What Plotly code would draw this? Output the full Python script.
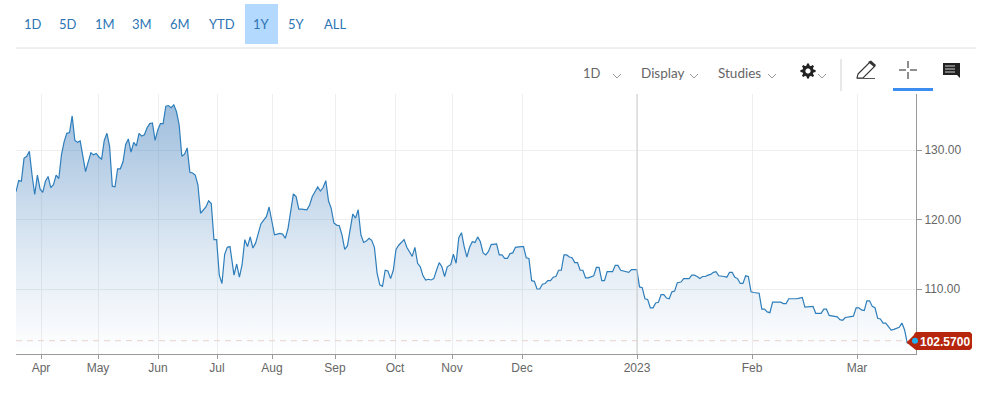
import math
import numpy as np
import plotly.graph_objects as go

W, H = 981, 393
PLOT_L, PLOT_R, PLOT_T, PLOT_B = 16, 916, 94, 354
Y_MIN, Y_MAX = 100.65, 138.06

range_buttons = ["1D", "5D", "1M", "3M", "6M", "YTD", "1Y", "5Y", "ALL"]
range_button_x = [32.5, 68, 105, 142, 180, 222, 261, 296, 335]

month_labels = ["Apr", "May", "Jun", "Jul", "Aug", "Sep", "Oct", "Nov", "Dec", "2023", "Feb", "Mar"]
month_positions = [25, 82, 142, 201, 256, 319, 379, 436, 506, 621, 736, 841]
price_ticks = [110, 120, 130]
last_price = 102.57

closes_a = [124.0, 125.6, 125.5, 128.8, 129.1, 129.8, 126.4, 123.6, 126.4, 124.4, 123.9, 125.5, 126.2, 124.6, 125.0, 126.4, 125.9,
            129.3, 131.2, 132.4, 132.5, 134.9, 131.4, 131.1, 131.3, 129.0, 126.9, 128.3, 129.6, 129.3, 129.5, 129.0, 128.7,
            131.4, 132.4, 130.5, 124.8, 124.7, 127.3, 127.3, 128.3, 130.8, 131.6, 129.7, 131.1, 130.6, 132.4, 132.0, 132.2,
            133.2, 133.8, 133.9, 131.4, 132.9, 133.8, 133.8, 136.3, 136.4, 136.1, 136.5, 135.5, 133.6, 129.1, 129.4, 130.3,
            126.8, 126.7, 126.4, 125.0, 120.9, 121.4, 121.8, 122.7, 122.3, 117.1, 117.1, 112.0, 110.8, 115.0, 116.0, 116.1]
closes_b = [112.0, 113.6, 111.7, 113.5, 117.1, 116.1, 117.5, 115.9, 116.6, 118.0, 119.4, 119.9, 120.4, 121.8, 119.7, 117.8, 117.9,
            118.0, 117.9, 117.3, 118.7, 120.9, 123.7, 123.3, 121.5, 121.5, 121.5, 121.4, 122.1, 123.3, 124.0, 124.7, 124.1,
            124.6, 125.6, 122.7, 121.6, 119.5, 119.2, 119.1, 117.8, 115.7, 116.2, 118.5, 120.8, 120.2, 121.4, 117.8, 116.7,
            116.9, 117.3, 117.0, 116.0, 112.3, 110.6, 110.4, 112.7, 112.6, 111.5, 112.7, 115.7, 116.3, 116.7, 117.1, 116.0,
            115.4, 114.7, 116.0, 113.7, 113.2, 111.9, 111.3, 111.4, 111.3, 111.5, 112.7, 113.8, 113.2, 111.8, 113.2, 113.4]
closes_c = [113.5, 115.0, 113.7, 117.4, 118.1, 116.1, 114.6, 116.0, 116.8, 116.7, 117.5, 116.8, 115.2, 114.9, 115.4, 116.4, 116.5,
            116.5, 114.9, 114.9, 114.4, 114.4, 115.1, 115.2, 116.0, 116.1, 116.1, 116.1, 114.5, 114.4, 111.2, 111.1, 110.0,
            110.0, 110.7, 110.8, 111.2, 111.2, 111.7, 111.8, 112.7, 112.7, 114.9, 114.9, 114.6, 114.5, 113.8, 113.8, 112.7,
            112.7, 111.6, 111.6, 111.8, 111.9, 113.1, 113.1, 111.2, 111.2, 112.5, 112.5, 112.5, 113.4, 113.4, 112.7, 112.6,
            112.4, 112.4, 112.8, 112.8, 112.8, 110.3, 110.2, 108.6, 108.5, 107.3, 107.3, 108.0, 108.1, 109.2, 109.2, 108.7,
            108.6, 109.6, 109.7, 110.9, 111.0]
closes_d = [111.0, 111.5, 111.5, 111.5, 112.0, 112.0, 111.8, 111.5, 111.8, 111.8, 112.0, 112.1, 112.4, 112.5, 111.9, 111.9, 111.8,
            111.7, 112.4, 112.4, 111.7, 111.5, 110.8, 110.8, 111.9, 111.8, 109.6, 109.5, 109.5, 109.4, 107.1, 107.1, 106.7,
            106.6, 108.1, 108.1, 108.1, 108.1, 107.9, 107.9, 108.6, 108.6, 108.5, 108.6, 108.7, 108.8, 107.4, 107.4, 107.5,
            107.5, 106.5, 106.5, 106.5, 107.1, 107.1, 106.2, 106.1, 106.0, 106.0, 105.6, 105.5, 105.9, 106.0, 106.0, 106.1,
            107.3, 107.3, 107.0, 106.9, 108.3, 108.3, 107.5, 107.3, 105.8, 105.7, 105.1, 105.1, 104.6, 104.1, 104.2, 104.4,
            104.5, 105.1, 104.1, 102.2, 102.57]

# horizontal axis span covered by each run of closes
span_a, span_b, span_c, span_d = (0, 214), (218, 434), (434.7, 664), (665, 894)

xs = np.concatenate([
    np.linspace(*span_a, len(closes_a)),
    np.linspace(*span_b, len(closes_b)),
    np.linspace(*span_c, len(closes_c)),
    np.linspace(*span_d, len(closes_d)),
])
ys = closes_a + closes_b + closes_c + closes_d


def px(x):
    return x / W


def py(y):
    return 1 - y / H


fig = go.Figure()
fig.add_trace(go.Scatter(
    x=xs, y=ys, mode="lines", line=dict(color="#2E7EBB", width=1.2), fill="tozeroy",
    fillgradient=dict(type="vertical", start=Y_MIN, stop=136.5,
                      colorscale=[[0, "rgba(70,130,190,0.0)"], [0.4, "rgba(70,130,190,0.17)"],
                                  [1, "rgba(70,130,190,0.52)"]]),
    hoverinfo="skip", showlegend=False,
))

shapes = []


def rect(x0, y0, x1, y1, color):
    shapes.append(dict(type="rect", xref="paper", yref="paper", x0=px(x0), x1=px(x1), y0=py(y0), y1=py(y1),
                       fillcolor=color, line=dict(width=0), layer="below"))


def seg(x0, y0, x1, y1, color, width=1.0):
    shapes.append(dict(type="line", xref="paper", yref="paper", x0=px(x0), x1=px(x1), y0=py(y0), y1=py(y1),
                       line=dict(color=color, width=width)))


def poly(points, fill, line=None, width=0, close=True):
    d = "M" + " L".join(f"{px(a):.5f},{py(b):.5f}" for a, b in points) + (" Z" if close else "")
    shapes.append(dict(type="path", xref="paper", yref="paper", path=d,
                       fillcolor=fill, line=dict(color=line or "rgba(0,0,0,0)", width=width)))


rect(245, 4, 278, 44, "#B3D9FF")
seg(16, 48, 976, 48, "#E0E0E0", 1)
seg(841, 59, 841, 91, "#D0D0D0", 1)
rect(893, 88, 933, 91, "#3B8DF0")

# chevrons
for cx in (617, 694, 772, 822):
    poly([(cx - 4, 74), (cx, 78), (cx + 4, 74)], "rgba(0,0,0,0)", "#999999", 1, close=False)

# gear
cx, cy = 808, 71
pts = []
for k in range(48):
    a = 2 * math.pi * k / 48
    tooth = (k + 1) % 6 < 3
    r = 7.6 if tooth else 5.6
    pts.append((cx + r * math.cos(a), cy + r * math.sin(a)))
poly(pts, "#222222")
hole = [(cx + 2.6 * math.cos(2 * math.pi * k / 20), cy + 2.6 * math.sin(2 * math.pi * k / 20)) for k in range(20)]
poly(hole, "#FFFFFF")

# pencil
poly([(858, 74), (870, 62), (875, 66), (863, 78), (857, 78)], "#FFFFFF", "#333333", 1.1)
poly([(868, 62), (871, 60.5), (876, 65), (874, 67)], "#333333")
seg(857, 78.5, 875, 78.5, "#555555", 1)

# crosshair
seg(899, 70, 906, 70, "#444444", 1.2)
seg(910, 70, 917, 70, "#444444", 1.2)
seg(908, 61, 908, 68, "#444444", 1.2)
seg(908, 72, 908, 79, "#444444", 1.2)

# comment
poly([(943, 63), (960, 63), (960, 78), (957, 75), (943, 75)], "#222222")
for ly in (66, 69, 72):
    seg(945, ly, 955, ly, "#FFFFFF", 0.8)

# January boundary
shapes.append(dict(type="line", xref="x", yref="y", x0=621, x1=621, y0=Y_MIN, y1=Y_MAX,
                   line=dict(color="#CCCCCC", width=1)))
# last-price line
shapes.append(dict(type="line", xref="x", yref="y", x0=0, x1=892, y0=last_price, y1=last_price,
                   line=dict(color="#E8D2CB", width=1, dash="6px,5px")))

# price tag
tag = [(906.5, 342.5), (914, 335), (914.5, 333.5), (916, 332), (970, 332), (972, 334),
       (972, 348), (970, 350), (916, 350), (914.5, 349)]
poly(tag, "#B5260C")

# last-price dot
shapes.append(dict(type="circle", xref="paper", yref="y", xsizemode="pixel", ysizemode="pixel",
                   xanchor=px(915), yanchor=last_price, x0=-3, x1=3, y0=-3, y1=3,
                   fillcolor="#1FB0F2", line=dict(width=0)))

ann = []
BODY = "Lato, 'Open Sans', sans-serif"
for label, bx in zip(range_buttons, range_button_x):
    ann.append(dict(text=label, x=px(bx), y=py(23.5), xref="paper", yref="paper", showarrow=False,
                    xanchor="center", yanchor="middle", font=dict(family=BODY, size=13, color="#2E75B5")))
for label, tx, fs in (("1D", 591.5, 13), ("Display", 663, 13.5), ("Studies", 739.5, 13.5)):
    ann.append(dict(text=label, x=px(tx), y=py(72.5), xref="paper", yref="paper", showarrow=False,
                    xanchor="center", yanchor="middle", font=dict(family=BODY, size=fs, color="#666666")))
ann.append(dict(text=f"{last_price:.4f}", x=px(945), y=py(341.5), xref="paper", yref="paper", showarrow=False,
                xanchor="center", yanchor="middle",
                font=dict(family="Liberation Sans", size=12, color="#FFFFFF", weight="bold")))

fig.update_layout(
    width=W, height=H, margin=dict(l=0, r=0, t=0, b=0), paper_bgcolor="#FFFFFF", plot_bgcolor="#FFFFFF",
    showlegend=False, hovermode=False, shapes=shapes, annotations=ann,
    font=dict(family="Liberation Sans", size=12, color="#666666"),
    xaxis=dict(domain=[px(PLOT_L), px(PLOT_R)], range=[0, PLOT_R - PLOT_L], tickmode="array",
               tickvals=month_positions, ticktext=month_labels, showgrid=True, gridcolor="#EEEEEE", gridwidth=1,
               zeroline=False, showline=True, linecolor="#999999", linewidth=1, ticks="outside", ticklen=4,
               tickcolor="#999999", ticklabelstandoff=-1,
               tickfont=dict(family="Liberation Sans", size=12, color="#666666")),
    yaxis=dict(domain=[py(PLOT_B), py(PLOT_T)], range=[Y_MIN, Y_MAX], side="right", tickmode="array",
               tickvals=price_ticks, ticktext=[f"{v:.2f}" for v in price_ticks], showgrid=True,
               gridcolor="#EEEEEE", gridwidth=1, zeroline=False, showline=True, linecolor="#999999", linewidth=1,
               ticks="outside", ticklen=5, tickcolor="#999999",
               tickfont=dict(family="Liberation Sans", size=12, color="#666666")),
)

fig.write_html("out.html", config=dict(displayModeBar=False),
               post_script="document.body.style.margin='0';document.body.style.overflow='hidden';")
